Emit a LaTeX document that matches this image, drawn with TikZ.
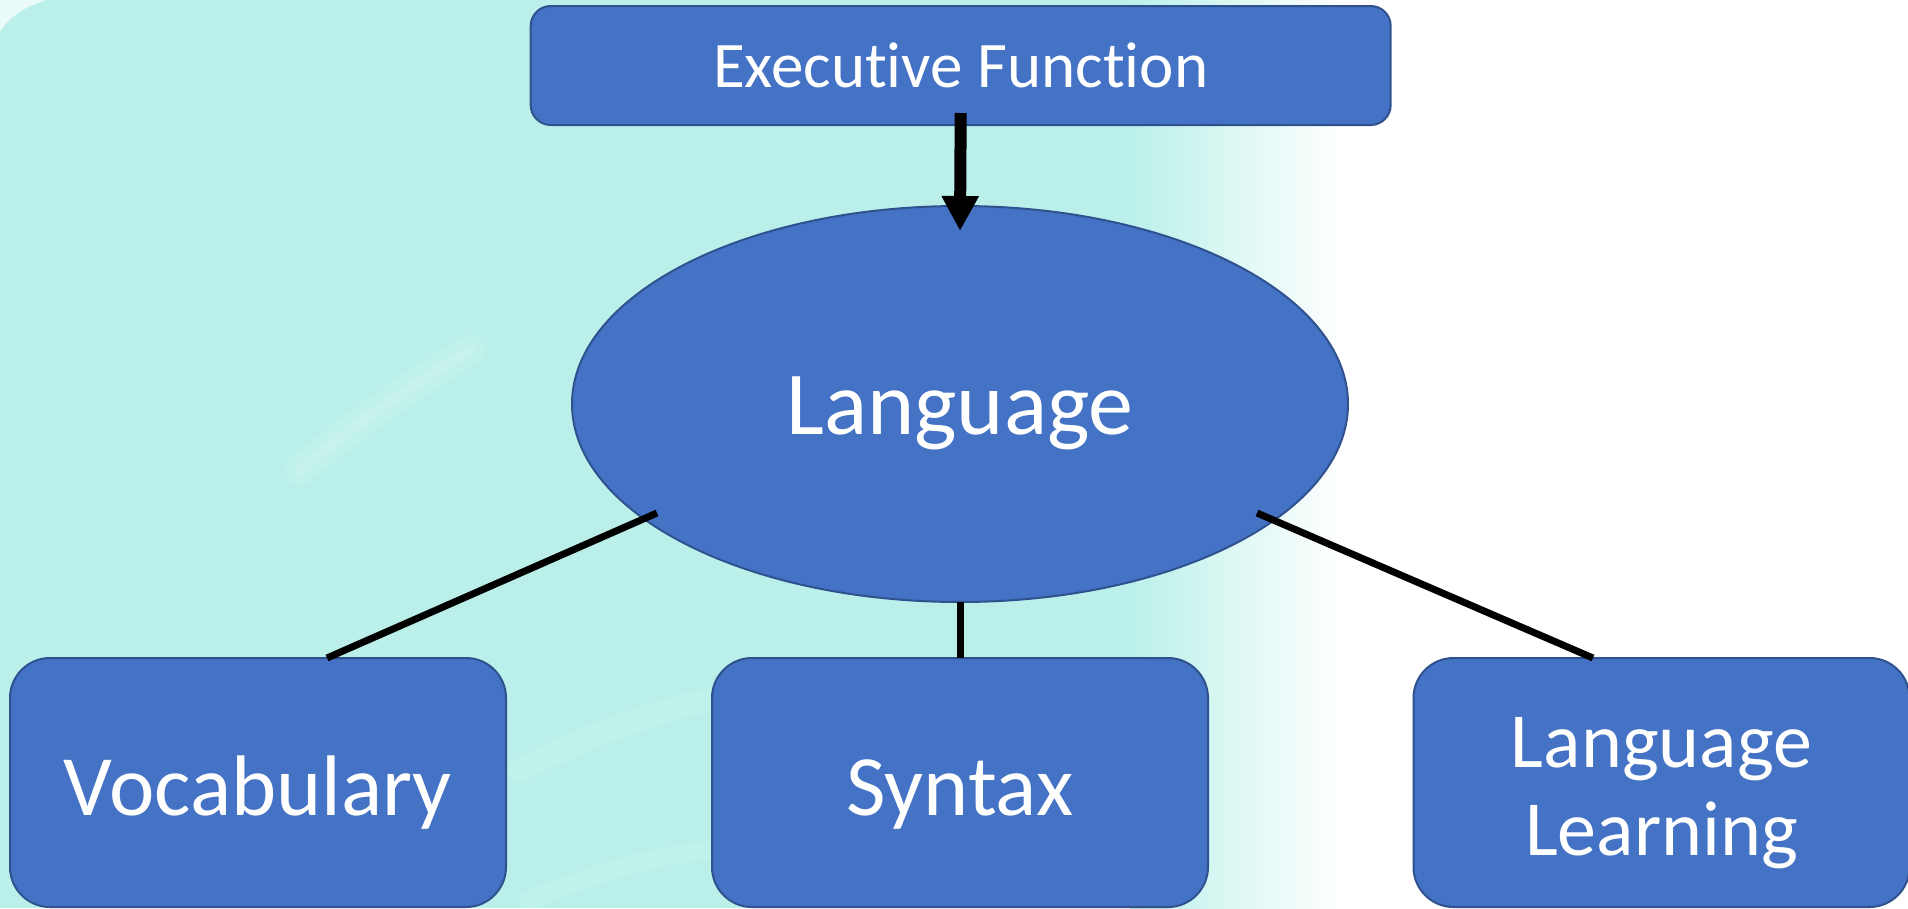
\documentclass[tikz,border=0pt]{standalone}
\usepackage{fontspec}
\setmainfont{Carlito}[Ligatures=NoCommon]
\usetikzlibrary{arrows.meta,shapes.geometric,calc}

\definecolor{boxblue}{HTML}{4472C4}
\definecolor{boxedge}{HTML}{2F528F}
\definecolor{tealwash}{HTML}{BAF0E9}

\tikzset{
  conceptbox/.style={draw=boxedge, fill=boxblue, line width=2pt,
    rounded corners=#1, inner sep=0pt, outer sep=0pt, text=white},
  topbox/.style={conceptbox=20pt, minimum width=860pt, minimum height=119pt,
    font=\fontsize{65}{78}\selectfont, text height=44pt, text depth=0pt},
  leafbox/.style={conceptbox=40pt, minimum width=496pt, minimum height=249pt},
  leaftext/.style={font=\fontsize{86}{100}\selectfont, text height=65pt, text depth=0pt},
  hub/.style={ellipse, draw=boxedge, fill=boxblue, line width=2pt, inner sep=0pt,
    outer sep=0pt, text=white, minimum width=776pt, minimum height=396pt,
    font=\fontsize{90}{100}\selectfont, text height=61pt, text depth=0pt},
  link/.style={line width=7pt, black},
  flow/.style={line width=12pt, black, -{Triangle[length=35pt,width=35pt]}},
  streak/.style={white, line cap=round}
}

\begin{document}
\begin{tikzpicture}[x=1pt,y=-1pt]
  \useasboundingbox (0,0) rectangle (1908,908);

  % backdrop: flat teal wash on the left, blending into white on the right
  \fill[white] (0,0) rectangle (1908,908);
  \fill[tealwash] (0,0) rectangle (1131,908);
  \shade[left color=tealwash, right color=white] (1130,0) rectangle (1340,908);
  \fill[white, opacity=0.7] (0,0) -- (46,0) .. controls (24,7) and (8,18) .. (0,32) -- cycle;
  \draw[streak, opacity=0.10, line width=30pt] (300,470) .. controls (360,420) and (420,380) .. (470,350);
  \draw[streak, opacity=0.12, line width=10pt] (300,470) .. controls (360,420) and (420,380) .. (470,350);
  \draw[streak, opacity=0.10, line width=24pt] (520,770) .. controls (600,730) and (660,710) .. (710,700);
  \draw[streak, opacity=0.10, line width=18pt] (530,900) .. controls (600,870) and (660,855) .. (710,850);

  % concept nodes
  \node[topbox] (exec) at (960.7,65.5) {Executive Function};
  \node[hub] (lang) at (960,404) {Language};
  \node[leafbox, leaftext] (voc) at (258,782.5) {Vocabulary};
  \node[leafbox, leaftext] (syn) at (960,782.5) {Syntax};
  \node[leafbox, font=\fontsize{78}{88}\selectfont, text height=145pt, text depth=0pt]
    (learn) at (1661.5,782.5)
    {\vbox{\halign{\hfil#\hfil\cr Language\cr Learning\cr}}};

  % connectors
  \draw[flow] ($(exec.south)+(0,-12)$) -- ($(lang.north)+(0,25)$);
  \draw[link] ($(lang.center)+(-303,109)$) -- ($(voc.north)+(69,0)$);
  \draw[link] (lang.south) -- (syn.north);
  \draw[link] ($(lang.center)+(297,109)$) -- ($(learn.north)+(-68.5,0)$);
\end{tikzpicture}
\end{document}
